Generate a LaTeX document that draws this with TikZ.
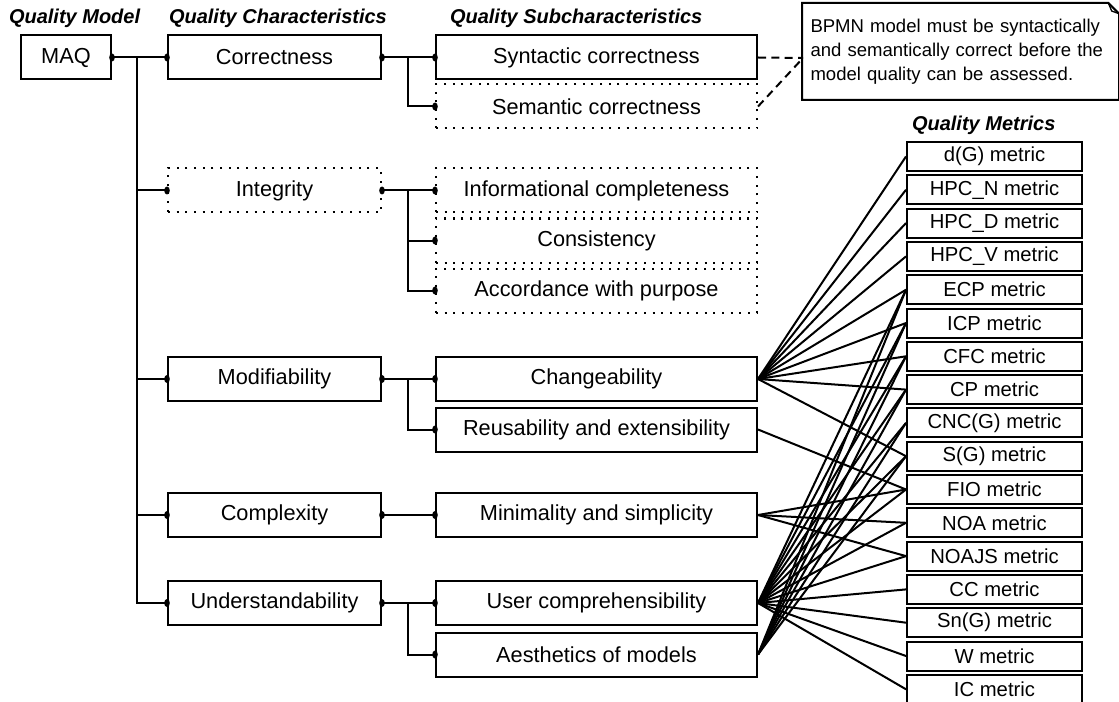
\documentclass[tikz,border=0pt]{standalone}
\usepackage{fontspec}
\setmainfont{Liberation Sans}
\begin{document}
\begin{tikzpicture}[x=0.75pt,y=-0.75pt,line join=miter,line width=1.5pt]
	\tikzset{box/.style={draw,rectangle,inner sep=0pt,minimum height=33pt,font=\fontsize{16.3}{19}\selectfont},
		chbox/.style={box,minimum width=159.75pt},
		subbox/.style={box,minimum width=240.75pt},
		dotbox/.style={dash pattern=on 1.5pt off 5pt},
		mbox/.style={box,minimum width=131.25pt,minimum height=21.75pt,font=\fontsize{15.2}{18}\selectfont},
		hdr/.style={anchor=west,inner sep=0pt,font=\fontsize{15}{18}\bfseries\itshape\selectfont},
		notebox/.style={inner sep=0pt,minimum width=236.25pt,minimum height=71.25pt,text width=225pt,align=left,font=\fontsize{13.9}{18}\selectfont}}
	\useasboundingbox (0,0) rectangle (1119,702);
	\node[hdr] (h1) at (8,18) {Quality Model};
	\node[hdr] (h2) at (168,18) {Quality Characteristics};
	\node[hdr] (h3) at (449,18) {Quality Subcharacteristics};
	\node[hdr] (h4) at (911,125) {Quality Metrics};
	\node[box,minimum width=67.5pt] (maq) at (66,57.5) {MAQ};
	\node[chbox] (corr) at (274.5,57.5) {Correctness};
	\node[chbox,dotbox] (integ) at (274.5,190.5) {Integrity};
	\node[chbox] (modi) at (274.5,379) {Modifiability};
	\node[chbox] (cplx) at (274.5,515) {Complexity};
	\node[chbox] (undst) at (274.5,603) {Understandability};
	\node[subbox] (syn) at (596.5,57.5) {Syntactic correctness};
	\node[subbox,dotbox] (sem) at (596.5,106.5) {Semantic correctness};
	\node[subbox,dotbox] (info) at (596.5,190.5) {Informational completeness};
	\node[subbox,dotbox] (cons) at (596.5,240.5) {Consistency};
	\node[subbox,dotbox] (acc) at (596.5,290.5) {Accordance with purpose};
	\node[subbox] (chg) at (596.5,379) {Changeability};
	\node[subbox] (reu) at (596.5,429.5) {Reusability and extensibility};
	\node[subbox] (mini) at (596.5,515) {Minimality and simplicity};
	\node[subbox] (usr) at (596.5,603) {User comprehensibility};
	\node[subbox] (aes) at (596.5,654.5) {Aesthetics of models};
	\foreach \t [count=\i] in {d(G) metric,HPC\_N metric,HPC\_D metric,HPC\_V metric,ECP metric,ICP metric,CFC metric,CP metric,CNC(G) metric,S(G) metric,FIO metric,NOA metric,NOAJS metric,CC metric,Sn(G) metric,W metric,IC metric}
		\node[mbox] (m\i) at (994.5,{123.2+33.3*\i}) {\t};
	\node[notebox] (note) at (960.5,51.5) {BPMN model must be syntactically\\and semantically correct before the\\model quality can be assessed.};
	\draw (note.south west) -- (note.north west) -- ([xshift=-8pt]note.north east) -- ([yshift=-8pt]note.north east) -- (note.south east) -- cycle;
	\draw[line width=1pt] ([xshift=-8pt]note.north east) -- ([xshift=-5.5pt,yshift=-6pt]note.north east) -- ([yshift=-8pt]note.north east);
	\coordinate (nin) at (803,58);
	\draw[dash pattern=on 6pt off 4pt] (syn.east) -- (nin) (sem.east) -- (nin);
	\coordinate (tr) at (137,57.5);
	\draw (maq.east) -- (corr.west);
	\foreach \c in {integ,modi,cplx,undst}
		\draw (tr) |- (\c.west);
	\coordinate (fk) at (408,0);
	\draw (corr.east) -- (syn.west) (corr.east -| fk) |- (sem.west);
	\draw (integ.east) -- (info.west) (integ.east -| fk) |- (cons.west) (integ.east -| fk) |- (acc.west);
	\draw (modi.east) -- (chg.west) (modi.east -| fk) |- (reu.west);
	\draw (cplx.east) -- (mini.west);
	\draw (undst.east) -- (usr.west) (undst.east -| fk) |- (aes.west);
	\foreach \n in {maq.east,corr.west,corr.east,integ.west,integ.east,modi.west,modi.east,cplx.west,cplx.east,undst.west,undst.east,syn.west,sem.west,info.west,cons.west,acc.west,chg.west,reu.west,mini.west,usr.west,aes.west}
		\fill (\n) ellipse (2.1pt and 3pt);
	\foreach \i in {1,...,8,10}
		\draw (chg.east) -- (m\i.west);
	\draw (reu.east) -- (m11.west);
	\foreach \i in {11,12,13}
		\draw (mini.east) -- (m\i.west);
	\foreach \i in {5,...,17}
		\draw (usr.east) -- (m\i.west);
	\foreach \i in {5,...,10}
		\draw (aes.east) -- (m\i.west);
\end{tikzpicture}
\end{document}
